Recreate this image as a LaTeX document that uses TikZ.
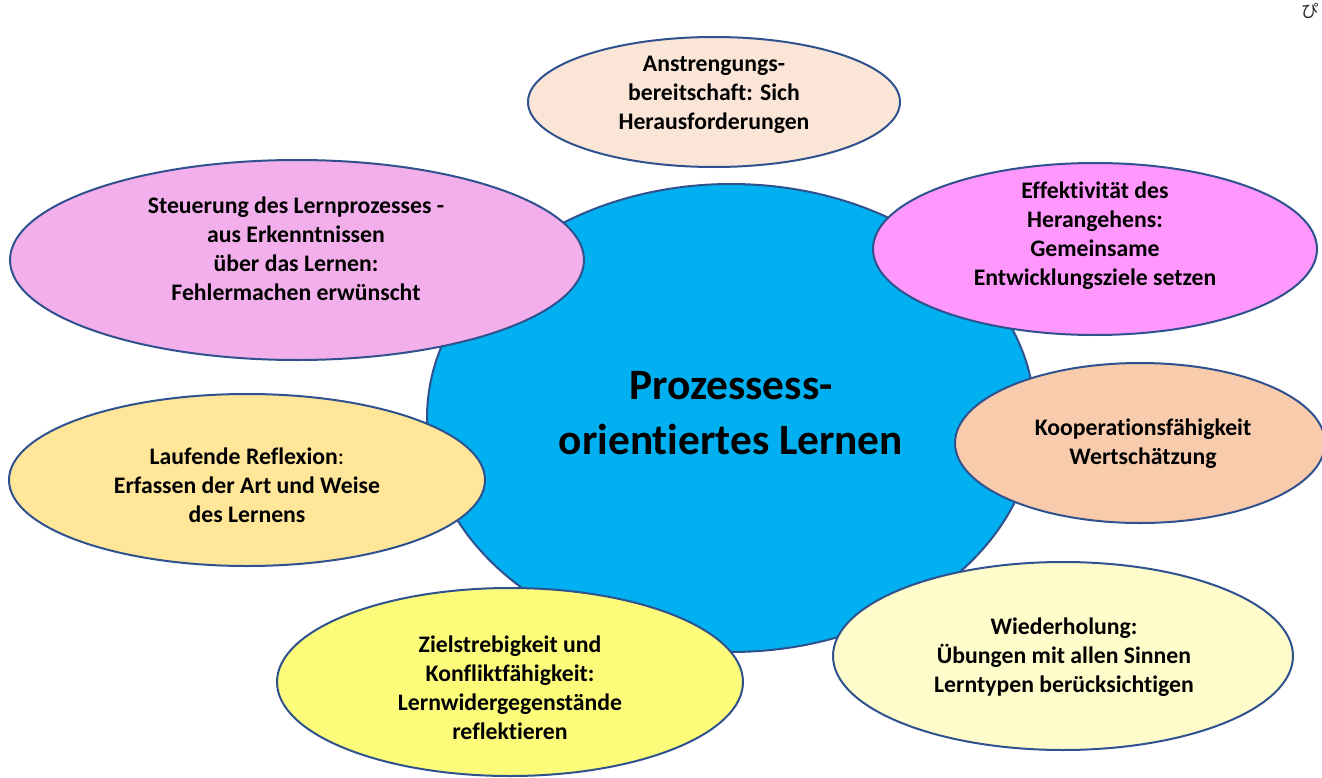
\documentclass[tikz,border=0pt]{standalone}
\usepackage{fontspec}
\setmainfont[Ligatures={NoCommon}]{Carlito}
\newfontfamily\jpfont{Noto Sans CJK JP}
\usetikzlibrary{shapes.geometric}
\definecolor{edgeblue}{HTML}{2F528F}
\definecolor{centerblue}{HTML}{00B0F0}
\definecolor{cpeach}{HTML}{FBE5D6}
\definecolor{cpink}{HTML}{F3AFEB}
\definecolor{cmagenta}{HTML}{FF97FC}
\definecolor{corange}{HTML}{F8CBAD}
\definecolor{clightyellow}{HTML}{FFFCCB}
\definecolor{cyellow}{HTML}{FCFC7A}
\definecolor{cgold}{HTML}{FFE699}
\begin{document}
\begin{tikzpicture}[x=0.75pt,y=-0.75pt,
  bubble/.style={ellipse, draw=edgeblue, line width=1.5pt, inner sep=0pt},
  txt/.style={font=\bfseries\fontsize{17.8}{21.8}\selectfont, align=center, text=black, inner sep=0pt},
  bigtxt/.style={font=\bfseries\fontsize{32.5}{41}\selectfont, align=center, text=black, inner sep=0pt}]
\useasboundingbox (0,0) rectangle (1322,778);
% centre
\node[bubble, fill=centerblue, minimum width=608*0.75pt, minimum height=468*0.75pt] (c) at (731,418) {};
\node[bigtxt] (ct) at (731,413) {Prozessess-\\orientiertes Lernen};
% satellites
\node[bubble, fill=cpeach, minimum width=372*0.75pt, minimum height=130*0.75pt] (a) at (714,102) {};
\node[txt] (at) at (714,95) {Anstrengungs-\\bereitschaft: Sich\\Herausforderungen};
\node[bubble, fill=cpink, minimum width=574*0.75pt, minimum height=200*0.75pt] (s) at (297,260) {};
\node[txt] (st) at (296,249) {Steuerung des Lernprozesses -\\aus Erkenntnissen\\über das Lernen:\\Fehlermachen erwünscht};
\node[bubble, fill=cmagenta, minimum width=444*0.75pt, minimum height=172*0.75pt] (e) at (1095,249) {};
\node[txt] (et) at (1095,236) {Effektivität des\\Herangehens:\\Gemeinsame\\Entwicklungsziele setzen};
\node[bubble, fill=corange, minimum width=370*0.75pt, minimum height=160*0.75pt] (k) at (1140,443) {};
\node[txt] (kt) at (1143,444) {Kooperationsfähigkeit\\Wertschätzung};
\node[bubble, fill=clightyellow, minimum width=460*0.75pt, minimum height=188*0.75pt] (w) at (1063,656) {};
\node[txt] (wt) at (1064,657) {Wiederholung:\\Übungen mit allen Sinnen\\Lerntypen berücksichtigen};
\node[bubble, fill=cyellow, minimum width=466*0.75pt, minimum height=188*0.75pt] (z) at (510,682) {};
\node[txt] (zt) at (510,688) {Zielstrebigkeit und\\Konfliktfähigkeit:\\Lernwidergegenstände\\reflektieren};
\node[bubble, fill=cgold, minimum width=476*0.75pt, minimum height=172*0.75pt] (l) at (247,480) {};
\node[txt] (lt) at (247,485) {Laufende Reflexion{\mdseries :}\\Erfassen der Art und Weise\\des Lernens};
% corner glyph
\node[font=\jpfont\fontsize{13}{13}\selectfont, text=black!85, inner sep=0pt] (g) at (1310,11) {ぴ};
\end{tikzpicture}
\end{document}
